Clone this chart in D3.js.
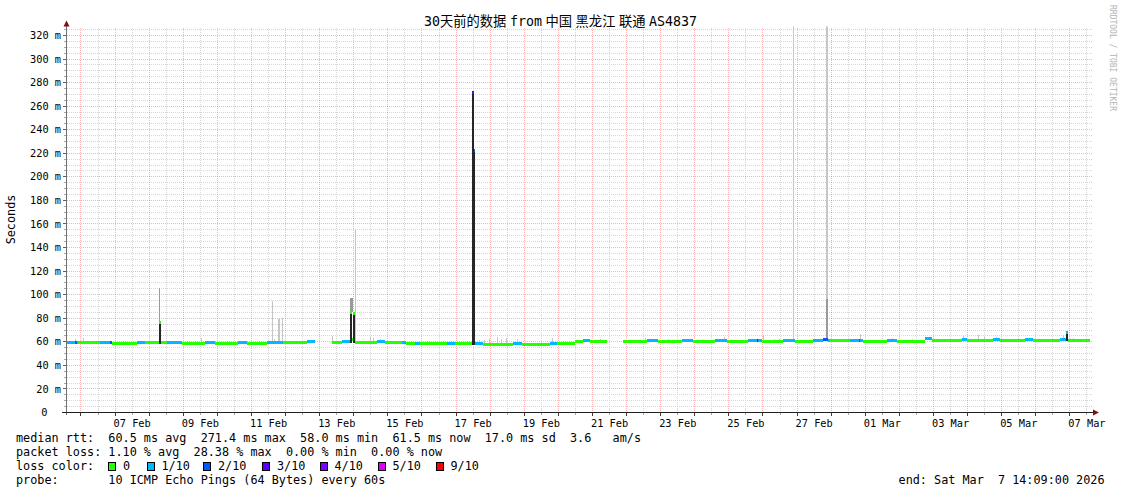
<!DOCTYPE html>
<html>
<head>
<meta charset="utf-8">
<script src="https://cdn.jsdelivr.net/npm/d3@7"></script>
<style>
  html, body { margin: 0; padding: 0; background: #fff; }
  svg { display: block; }
  text { font-family: 'DejaVu Sans Mono', 'Noto Sans CJK SC', monospace; fill: #000; white-space: pre; }
</style>
</head>
<body>
<script>
const W = 1121;
const H = 494;

// median rtt, one run per stretch of equal loss: start, end, median ms, lost pings of 10
const medianRuns = [
  ['02-05 14:09', '02-05 19:45', 59.8, 1],
  ['02-05 19:45', '02-05 21:00', 59.8, 2],
  ['02-05 21:00', '02-05 22:00', 59.5, 1],
  ['02-05 22:00', '02-06 13:20', 59.0, 0],
  ['02-06 13:20', '02-06 20:20', 59.6, 1],
  ['02-06 20:20', '02-06 21:50', 59.6, 2],
  ['02-06 21:50', '02-07 15:20', 58.6, 0],
  ['02-07 15:20', '02-07 21:00', 59.5, 1],
  ['02-07 21:00', '02-08 07:00', 59.0, 0],
  ['02-08 07:00', '02-08 08:00', 76.0, 0],
  ['02-08 08:00', '02-08 12:30', 59.2, 0],
  ['02-08 12:30', '02-08 23:00', 59.6, 1],
  ['02-08 23:00', '02-09 15:10', 58.6, 0],
  ['02-09 15:10', '02-09 22:20', 59.2, 1],
  ['02-09 22:20', '02-10 14:30', 58.2, 0],
  ['02-10 14:30', '02-10 20:50', 59.0, 1],
  ['02-10 20:50', '02-11 11:00', 58.5, 0],
  ['02-11 11:00', '02-11 22:10', 59.6, 1],
  ['02-11 22:10', '02-12 15:00', 59.5, 0],
  ['02-12 15:00', '02-12 20:40', 60.6, 1],
  ['02-13 08:40', '02-13 15:40', 59.8, 0],
  ['02-13 15:40', '02-13 21:20', 60.5, 1],
  ['02-13 21:20', '02-13 23:00', 85.0, 0],
  ['02-13 23:00', '02-13 23:40', 62.0, 0],
  ['02-13 23:40', '02-14 00:50', 84.0, 0],
  ['02-14 00:50', '02-14 16:20', 59.8, 0],
  ['02-14 16:20', '02-14 22:00', 60.4, 1],
  ['02-14 22:00', '02-15 10:00', 59.8, 0],
  ['02-15 10:00', '02-15 12:45', 59.4, 1],
  ['02-15 12:45', '02-15 19:00', 58.5, 0],
  ['02-15 19:00', '02-15 22:40', 58.7, 1],
  ['02-15 22:40', '02-16 17:40', 58.2, 0],
  ['02-16 17:40', '02-16 23:15', 58.7, 1],
  ['02-16 23:15', '02-17 11:10', 58.2, 0],
  ['02-17 11:10', '02-17 12:35', 271.4, 3],
  ['02-17 12:35', '02-17 13:20', 222.0, 2],
  ['02-17 13:20', '02-17 18:55', 58.6, 1],
  ['02-17 18:55', '02-18 16:00', 58.1, 0],
  ['02-18 16:00', '02-18 22:25', 58.7, 1],
  ['02-18 22:25', '02-19 18:05', 58.1, 0],
  ['02-19 18:05', '02-19 23:00', 58.6, 1],
  ['02-19 23:00', '02-20 11:40', 58.2, 0],
  ['02-20 11:40', '02-20 17:20', 60.2, 0],
  ['02-20 17:20', '02-20 22:15', 60.7, 1],
  ['02-20 22:15', '02-21 10:15', 60.0, 0],
  ['02-21 21:40', '02-22 14:10', 60.5, 0],
  ['02-22 14:10', '02-22 22:20', 61.0, 1],
  ['02-22 22:20', '02-23 14:50', 60.4, 0],
  ['02-23 14:50', '02-23 23:00', 61.0, 1],
  ['02-23 23:00', '02-24 14:10', 60.4, 0],
  ['02-24 14:10', '02-24 22:30', 61.0, 1],
  ['02-24 22:30', '02-25 13:40', 60.5, 0],
  ['02-25 13:40', '02-25 19:35', 61.0, 1],
  ['02-25 19:35', '02-25 20:40', 61.5, 3],
  ['02-25 20:40', '02-25 23:05', 61.0, 1],
  ['02-25 23:05', '02-26 14:20', 60.5, 0],
  ['02-26 14:20', '02-26 22:30', 61.0, 1],
  ['02-26 22:30', '02-27 11:25', 60.5, 0],
  ['02-27 11:25', '02-27 18:30', 61.5, 1],
  ['02-27 18:30', '02-27 22:00', 62.0, 2],
  ['02-27 22:00', '02-27 23:10', 61.5, 1],
  ['02-27 23:10', '02-28 13:15', 60.8, 0],
  ['02-28 13:15', '02-28 19:20', 61.3, 1],
  ['02-28 19:20', '02-28 20:20', 61.5, 2],
  ['02-28 20:20', '02-28 22:35', 61.3, 1],
  ['02-28 22:35', '03-01 15:05', 60.6, 0],
  ['03-01 15:05', '03-01 22:05', 61.0, 1],
  ['03-01 22:05', '03-02 18:00', 60.6, 0],
  ['03-02 18:00', '03-02 22:45', 62.5, 1],
  ['03-02 22:45', '03-03 19:50', 61.2, 0],
  ['03-03 19:50', '03-03 23:25', 62.2, 1],
  ['03-03 23:25', '03-04 18:05', 61.2, 0],
  ['03-04 18:05', '03-04 22:50', 62.2, 1],
  ['03-04 22:50', '03-05 16:25', 61.2, 0],
  ['03-05 16:25', '03-05 22:20', 61.8, 1],
  ['03-05 22:20', '03-06 17:00', 61.2, 0],
  ['03-06 17:00', '03-06 21:20', 61.8, 1],
  ['03-06 21:20', '03-06 22:40', 68.0, 1],
  ['03-06 22:40', '03-07 14:09', 61.5, 0],
];

// smoke (spread of the single pings): start, end, low ms, high ms
const darkSmoke = [
  ['02-08 07:00', '02-08 08:00', 58, 76],
  ['02-13 21:20', '02-13 23:00', 59, 85],
  ['02-13 23:40', '02-14 00:50', 59, 84],
  ['02-17 11:10', '02-17 12:35', 57, 271.4],
  ['02-17 12:35', '02-17 13:20', 57, 222],
  ['03-06 21:20', '03-06 22:40', 61, 68],
];

const midSmoke = [
  ['02-08 07:00', '02-08 07:45', 76, 106],
  ['02-13 21:20', '02-13 23:40', 85, 97],
  ['02-27 20:20', '02-27 22:00', 62, 96],
];

const lightSmoke = [
  ['02-05 19:50', '02-05 20:30', 60, 62],
  ['02-06 01:20', '02-06 02:00', 59, 63],
  ['02-09 12:40', '02-09 13:20', 59, 63.4],
  ['02-11 14:20', '02-11 15:00', 60, 95],
  ['02-11 18:40', '02-11 20:05', 60, 79],
  ['02-11 21:40', '02-11 22:20', 60, 80.4],
  ['02-11 15:30', '02-11 16:10', 59.6, 62],
  ['02-13 08:40', '02-13 09:20', 60, 65],
  ['02-14 00:50', '02-14 01:30', 60, 155],
  ['02-14 11:20', '02-14 12:00', 60, 64],
  ['02-14 13:40', '02-14 14:20', 60, 63],
  ['02-14 18:10', '02-14 18:50', 60.4, 62],
  ['02-17 16:10', '02-17 16:50', 58.6, 61.7],
  ['02-17 19:40', '02-17 20:20', 58.1, 61.5],
  ['02-17 23:10', '02-17 23:50', 58.1, 62.5],
  ['02-18 04:30', '02-18 05:10', 58.1, 64.5],
  ['02-18 07:50', '02-18 08:30', 58.1, 62.8],
  ['02-18 11:20', '02-18 12:00', 58.1, 63.4],
  ['02-18 19:10', '02-18 19:50', 58.7, 62],
  ['02-19 19:50', '02-19 20:30', 58.6, 63],
  ['02-20 02:10', '02-20 02:50', 58.2, 60.8],
  ['02-21 05:35', '02-21 06:15', 60, 62],
  ['02-22 12:40', '02-22 13:20', 60.5, 63],
  ['02-23 04:50', '02-23 05:30', 60.4, 62.5],
  ['02-24 20:15', '02-24 20:55', 61, 64],
  ['02-25 23:40', '02-26 00:20', 60.5, 65.4],
  ['02-26 07:50', '02-26 08:30', 60.5, 62.5],
  ['02-26 11:20', '02-26 12:00', 60.5, 62.5],
  ['02-26 21:20', '02-26 22:00', 61, 400],
  ['02-27 20:20', '02-27 22:00', 96, 400],
  ['02-28 20:00', '02-28 20:40', 61.5, 67],
  ['03-01 18:50', '03-01 19:30', 60.6, 63.4],
  ['03-02 08:35', '03-02 09:15', 60.6, 62.5],
  ['03-03 20:30', '03-03 21:10', 61.2, 64.8],
  ['03-04 07:00', '03-04 07:40', 61.2, 65.4],
  ['03-04 11:30', '03-04 12:10', 61.2, 64.5],
  ['03-04 20:20', '03-04 21:00', 62.2, 64.5],
  ['03-05 11:20', '03-05 12:00', 61.2, 63],
  ['03-06 18:50', '03-06 19:30', 61.8, 65.4],
  ['03-07 01:50', '03-07 02:30', 61.5, 63],
];

const xLabelDays = ['02-07', '02-09', '02-11', '02-13', '02-15', '02-17', '02-19', '02-21',
  '02-23', '02-25', '02-27', '03-01', '03-03', '03-05', '03-07'];
const yTicks = d3.range(0, 321, 20);

const lossLevels = [0, 1, 2, 3, 4, 5, 9];
const lossLabels = ['0', '1/10', '2/10', '3/10', '4/10', '5/10', '9/10'];
const lossColors = ['#26ff00', '#00b8ff', '#0059ff', '#5e00ff', '#7e00ff', '#dd00ff', '#ff0000'];

const rttStats = ['60.5 ms avg', '271.4 ms max', '58.0 ms min', '61.5 ms now', '17.0 ms sd', '3.6   am/s'];
const lossStats = ['1.10 % avg', '28.38 % max', '0.00 % min', '0.00 % now'];
const probeText = '10 ICMP Echo Pings (64 Bytes) every 60s';
const endText = 'end: Sat Mar  7 14:09:00 2026';
const titleText = '30天前的数据 from 中国 黑龙江 联通 AS4837';

const parse = d3.utcParse('%Y-%m-%d %H:%M');
const t = s => parse(`2026-${s}`);
const lossColor = n => lossColors[d3.bisectRight(lossLevels, n) - 1];

const plot = { left: 67, right: 1090, top: 26.5, bottom: 412.5 };
const x = d3.scaleUtc()
  .domain([t('02-05 14:09'), t('03-07 14:09')])
  .range([plot.left, plot.right]);
const y = d3.scaleLinear()
  .domain([0, 327.6])
  .range([plot.bottom, plot.top]);
const px = v => Math.floor(v) + 0.5;

const svg = d3.select('body').append('svg')
  .attr('width', W)
  .attr('height', H);

svg.append('rect').attr('width', W).attr('height', H).attr('fill', '#fff');

svg.append('clipPath').attr('id', 'plotclip')
  .append('rect')
  .attr('x', plot.left)
  .attr('y', plot.top)
  .attr('width', plot.right - plot.left + 2)
  .attr('height', plot.bottom - plot.top);

// grid
const grid = svg.append('g').attr('shape-rendering', 'crispEdges');
const [t0, t1] = x.domain();
const minorX = d3.utcHour.every(12).range(t0, t1).filter(d => d.getUTCHours() !== 0);
const majorX = d3.utcDay.range(t0, t1);
const minorY = d3.range(5, 327, 5).filter(v => v % 20 !== 0);
const majorY = yTicks.filter(v => v > 0);

grid.selectAll('.vmin').data(minorX).join('line')
  .attr('x1', d => px(x(d))).attr('x2', d => px(x(d)))
  .attr('y1', plot.bottom).attr('y2', plot.top)
  .attr('stroke', '#d6d6d6').attr('stroke-dasharray', '1,1');
grid.selectAll('.hmin').data(minorY).join('line')
  .attr('x1', plot.left).attr('x2', plot.right + 2)
  .attr('y1', d => px(y(d))).attr('y2', d => px(y(d)))
  .attr('stroke', '#d6d6d6').attr('stroke-dasharray', '1,1');
grid.selectAll('.vmaj').data(majorX).join('line')
  .attr('x1', d => px(x(d))).attr('x2', d => px(x(d)))
  .attr('y1', plot.bottom).attr('y2', plot.top)
  .attr('stroke', 'rgba(255,0,0,0.3)').attr('stroke-dasharray', '1,1');
grid.selectAll('.hmaj').data(majorY).join('line')
  .attr('x1', plot.left).attr('x2', plot.right + 2)
  .attr('y1', d => px(y(d))).attr('y2', d => px(y(d)))
  .attr('stroke', 'rgba(255,0,0,0.3)').attr('stroke-dasharray', '1,1');

// smoke and median
const data = svg.append('g').attr('clip-path', 'url(#plotclip)').attr('shape-rendering', 'crispEdges');
const drawSmoke = (rows, color) => {
  data.append('g').selectAll('rect').data(rows).join('rect')
    .attr('x', d => x(t(d[0])))
    .attr('width', d => Math.max(1, x(t(d[1])) - x(t(d[0]))))
    .attr('y', d => y(d[3]))
    .attr('height', d => y(d[2]) - y(d[3]))
    .attr('fill', color);
};
drawSmoke(lightSmoke, '#c6c6c6');
drawSmoke(midSmoke, '#9a9a9a');
drawSmoke(darkSmoke, '#262626');

data.append('g').selectAll('rect').data(medianRuns).join('rect')
  .attr('x', d => x(t(d[0])))
  .attr('width', d => Math.max(1, x(t(d[1])) - x(t(d[0]))))
  .attr('y', d => y(d[2]) - 1.5)
  .attr('height', 3)
  .attr('fill', d => lossColor(d[3]));

// axes
const axes = svg.append('g').attr('shape-rendering', 'crispEdges');
axes.selectAll('.ytmin').data(minorY).join('line')
  .attr('x1', plot.left - 3).attr('x2', plot.left)
  .attr('y1', d => px(y(d))).attr('y2', d => px(y(d)))
  .attr('stroke', '#a8a8a8');
axes.selectAll('.ytmaj').data(majorY).join('line')
  .attr('x1', plot.left - 4).attr('x2', plot.left)
  .attr('y1', d => px(y(d))).attr('y2', d => px(y(d)))
  .attr('stroke', '#606060');
axes.selectAll('.xtmaj').data(majorX).join('line')
  .attr('x1', d => px(x(d))).attr('x2', d => px(x(d)))
  .attr('y1', plot.bottom).attr('y2', plot.bottom + 3)
  .attr('stroke', '#404040');
axes.selectAll('.xtmin').data(minorX).join('line')
  .attr('x1', d => px(x(d))).attr('x2', d => px(x(d)))
  .attr('y1', plot.bottom).attr('y2', plot.bottom + 2)
  .attr('stroke', '#a8a8a8');

axes.append('line')
  .attr('x1', plot.left - 0.5).attr('x2', plot.left - 0.5)
  .attr('y1', plot.bottom + 2).attr('y2', plot.top - 1)
  .attr('stroke', '#707070');
axes.append('line')
  .attr('x1', plot.left - 5).attr('x2', plot.right + 4)
  .attr('y1', plot.bottom).attr('y2', plot.bottom)
  .attr('stroke', '#202020');

svg.append('path')
  .attr('d', `M${plot.left - 3.5},${plot.top}L${plot.left + 2.5},${plot.top}L${plot.left - 0.5},${plot.top - 6}Z`)
  .attr('fill', '#801010');
svg.append('path')
  .attr('d', `M${plot.right + 3},${plot.bottom - 3}L${plot.right + 3},${plot.bottom + 3}L${plot.right + 9},${plot.bottom}Z`)
  .attr('fill', '#801010');

// tick labels
svg.append('g').selectAll('text').data(yTicks).join('text')
  .attr('x', d => (d === 0 ? 47.5 : 61))
  .attr('y', d => y(d) + 3.6)
  .attr('text-anchor', 'end')
  .style('font-size', '10.3px')
  .text(d => (d === 0 ? '0' : `${d} m`));

const fmt = d3.utcFormat('%d %b');
svg.append('g').selectAll('text').data(xLabelDays).join('text')
  .attr('x', d => x(t(`${d} 12:00`)))
  .attr('y', 427)
  .attr('text-anchor', 'middle')
  .style('font-size', '10.3px')
  .text(d => fmt(t(`${d} 12:00`)));

// title, unit label, watermark
svg.append('text')
  .attr('x', W / 2)
  .attr('y', 26)
  .attr('text-anchor', 'middle')
  .attr('xml:space', 'preserve')
  .style('font-size', '13.3px')
  .style('word-spacing', '-4.5px')
  .text(titleText);

svg.append('text')
  .attr('transform', `translate(14.5, ${(plot.top + plot.bottom) / 2}) rotate(-90)`)
  .attr('text-anchor', 'middle')
  .style('font-size', '11.8px')
  .text('Seconds');

svg.append('text')
  .attr('transform', 'translate(1109.5, 5) rotate(90)')
  .attr('xml:space', 'preserve')
  .style('font-size', '8px')
  .style('fill', '#b4b4b4')
  .text('RRDTOOL / TOBI OETIKER');

// legend
const legend = svg.append('g').style('font-size', '11.8px');
const line = (xPos, yPos, str) => legend.append('text')
  .attr('x', xPos)
  .attr('y', yPos)
  .attr('xml:space', 'preserve')
  .text(str);
line(16, 442, `median rtt:  ${rttStats.join('  ')}`);
line(16, 456, `packet loss: ${lossStats.join('  ')}`);
line(16, 470, 'loss color:');
line(16, 484, `probe:       ${probeText}`);
line(1104.5, 484, endText).attr('text-anchor', 'end');

const boxX = [108, 146.5, 203, 262, 319.5, 377.5, 435.5];
const items = legend.selectAll('.lc').data(lossLabels).join('g')
  .attr('transform', (d, i) => `translate(${boxX[i]}, 462)`);
items.append('rect')
  .attr('x', 0.5).attr('y', 0.5)
  .attr('width', 7).attr('height', 8)
  .attr('fill', (d, i) => lossColors[i])
  .attr('stroke', '#000')
  .attr('shape-rendering', 'crispEdges');
items.append('text')
  .attr('x', 15).attr('y', 8)
  .text(d => d);
</script>
</body>
</html>
